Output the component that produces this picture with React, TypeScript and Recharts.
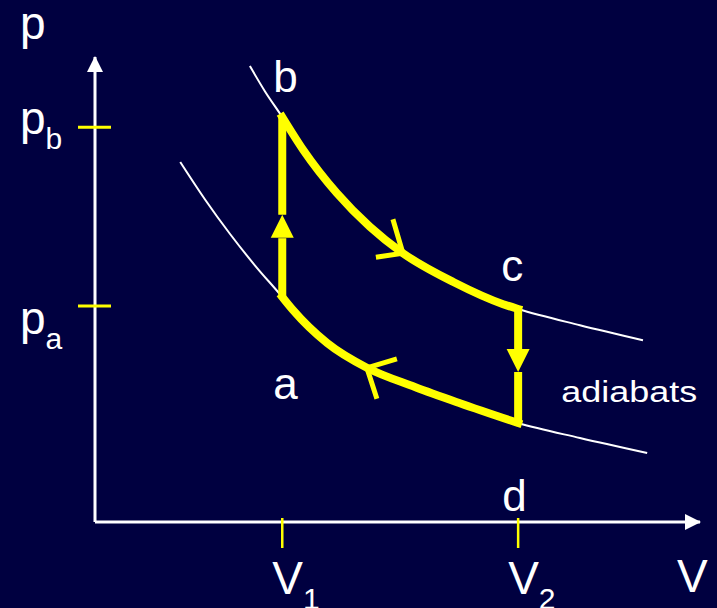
import {
  ComposedChart,
  Line,
  XAxis,
  YAxis,
  ReferenceDot,
  ReferenceLine,
} from "recharts";

// p-V diagram of the Otto cycle (arbitrary units)
const V1 = 3.12;
const V2 = 7.05;
const V_MAX = 10.08;
const P_MAX = 7.75;

// upper adiabat (through b and c)
const upperV = [2.58, 2.83, 3.12, 3.47, 4.03, 4.58, 5.13, 5.97, 6.8, 7.05, 8.08, 9.13];
const upperP = [7.6, 7.18, 6.75, 6.2, 5.48, 4.92, 4.48, 4.0, 3.63, 3.55, 3.28, 3.03];

// lower adiabat (through a and d)
const lowerV = [1.42, 1.83, 2.25, 2.67, 3.12, 3.3, 3.87, 4.53, 5.33, 6.08, 7.05, 8.08, 9.2];
const lowerP = [6.0, 5.38, 4.8, 4.27, 3.75, 3.53, 2.98, 2.57, 2.25, 1.98, 1.65, 1.4, 1.15];

// axis ticks
const volumeTicks = [V1, V2];
const volumeTickLabels = ["1", "2"];
const pressureTicks = [3.6, 6.58];
const pressureTickLabels = ["a", "b"];

// cycle corners
const cornerNames = ["a", "b", "c", "d"];
const cornerV = [V1, V1, V2, V2];
const cornerP = [3.75, 6.75, 3.55, 1.65];

// where the vertical strokes break for their arrowheads
const upArrowBase = 4.73;
const upArrowTip = 5.12;
const downArrowBase = 2.88;
const downArrowTip = 2.5;

// arrow tips on the cycle: up, expansion, down, compression
const arrowV = [V1, 5.13, V2, 4.53];
const arrowP = [upArrowTip, 4.48, downArrowTip, 2.57];

const BG = "#000040";
const YELLOW = "#ffff00";
const WHITE = "#ffffff";
const FONT = "'Liberation Sans', Arial, sans-serif";

type Pt = { V: number; p: number };
const toPoints = (vs: number[], ps: number[]): Pt[] => vs.map((V, i) => ({ V, p: ps[i] }));
const upper = toPoints(upperV, upperP);
const lower = toPoints(lowerV, lowerP);
const between = (pts: Pt[]) => pts.filter((d) => d.V >= V1 && d.V <= V2);

// the four strokes of the cycle
const expansion = between(upper); // b -> c
const compression = between(lower); // a <- d
const heatingLow = [
  { V: cornerV[0], p: cornerP[0] },
  { V: V1, p: upArrowBase },
];
const heatingHigh = [
  { V: V1, p: upArrowTip },
  { V: cornerV[1], p: cornerP[1] },
];
const coolingHigh = [
  { V: cornerV[2], p: cornerP[2] },
  { V: V2, p: downArrowBase },
];
const coolingLow = [
  { V: V2, p: downArrowTip },
  { V: cornerV[3], p: cornerP[3] },
];

const arrowShapes = [
  (cx: number, cy: number) => (
    <polygon points={`${cx},${cy} ${cx - 11.5},${cy + 23} ${cx + 11.5},${cy + 23}`} fill={YELLOW} />
  ),
  (cx: number, cy: number) => (
    <polyline
      points={`${cx - 10},${cy - 34} ${cx},${cy} ${cx - 27},${cy + 4}`}
      fill="none"
      stroke={YELLOW}
      strokeWidth={5}
    />
  ),
  (cx: number, cy: number) => (
    <polygon points={`${cx},${cy} ${cx - 11.5},${cy - 23} ${cx + 11.5},${cy - 23}`} fill={YELLOW} />
  ),
  (cx: number, cy: number) => (
    <polyline
      points={`${cx + 30},${cy - 9} ${cx},${cy} ${cx + 10},${cy + 31}`}
      fill="none"
      stroke={YELLOW}
      strokeWidth={5}
    />
  ),
];

// label offsets from the corner points, in pixels
const cornerLabelOffset = [
  [-9, 102],
  [-9, -25],
  [-17, -28],
  [-16, 88],
];
const pTickLabelDy = [28, 7];

const lineProps = { dataKey: "p", dot: false, activeDot: false, isAnimationActive: false } as const;

export default function App() {
  return (
    <div style={{ position: "absolute", left: 0, top: 0, width: 717, height: 608, background: BG }}>
      <ComposedChart
        width={717}
        height={608}
        margin={{ top: 57, right: 17, bottom: 86, left: 95 }}
        style={{ fontFamily: FONT }}
      >
        <XAxis type="number" dataKey="V" domain={[0, V_MAX]} allowDataOverflow hide />
        <YAxis type="number" domain={[0, P_MAX]} allowDataOverflow hide />

        {/* axes */}
        <ReferenceLine y={0} stroke={WHITE} strokeWidth={3} ifOverflow="visible" />
        <ReferenceLine x={0} stroke={WHITE} strokeWidth={3} ifOverflow="visible" />

        {/* adiabats */}
        <Line {...lineProps} data={upper} type="monotoneX" stroke={WHITE} strokeWidth={2} />
        <Line {...lineProps} data={lower} type="monotoneX" stroke={WHITE} strokeWidth={2} />

        {/* the cycle */}
        <Line {...lineProps} data={expansion} type="monotoneX" stroke={YELLOW} strokeWidth={8} strokeLinecap="square" />
        <Line {...lineProps} data={compression} type="monotoneX" stroke={YELLOW} strokeWidth={8} strokeLinecap="square" />
        <Line {...lineProps} data={heatingLow} type="linear" stroke={YELLOW} strokeWidth={8} />
        <Line {...lineProps} data={heatingHigh} type="linear" stroke={YELLOW} strokeWidth={8} />
        <Line {...lineProps} data={coolingHigh} type="linear" stroke={YELLOW} strokeWidth={8} />
        <Line {...lineProps} data={coolingLow} type="linear" stroke={YELLOW} strokeWidth={8} />

        {arrowV.map((v, i) => (
          <ReferenceDot
            key={`arrow-${i}`}
            x={v}
            y={arrowP[i]}
            ifOverflow="visible"
            shape={(props: any) => arrowShapes[i](props.cx, props.cy)}
          />
        ))}

        {/* axis arrowheads and names */}
        <ReferenceDot
          x={V_MAX}
          y={0}
          ifOverflow="visible"
          shape={({ cx, cy }: any) => (
            <g>
              <polygon points={`${cx + 1},${cy} ${cx - 15},${cy - 8} ${cx - 15},${cy + 8}`} fill={WHITE} />
              <text x={cx - 23} y={cy + 70} fill={WHITE} fontSize={46} fontFamily={FONT}>V</text>
            </g>
          )}
        />
        <ReferenceDot
          x={0}
          y={P_MAX}
          ifOverflow="visible"
          shape={({ cx, cy }: any) => (
            <g>
              <polygon points={`${cx},${cy - 1} ${cx - 8},${cy + 15} ${cx + 8},${cy + 15}`} fill={WHITE} />
              <text x={cx - 75} y={cy - 18} fill={WHITE} fontSize={46} fontFamily={FONT}>p</text>
            </g>
          )}
        />

        {/* yellow ticks with their labels */}
        {volumeTicks.map((v, i) => (
          <ReferenceDot
            key={`vt-${i}`}
            x={v}
            y={0}
            ifOverflow="visible"
            shape={({ cx, cy }: any) => (
              <g>
                <line x1={cx} x2={cx} y1={cy - 4} y2={cy + 26} stroke={YELLOW} strokeWidth={2.5} />
                <text x={cx - 10} y={cy + 72} fill={WHITE} fontSize={46} fontFamily={FONT}>
                  V<tspan fontSize={30} dy={15}>{volumeTickLabels[i]}</tspan>
                </text>
              </g>
            )}
          />
        ))}
        {pressureTicks.map((p, i) => (
          <ReferenceDot
            key={`pt-${i}`}
            x={0}
            y={p}
            ifOverflow="visible"
            shape={({ cx, cy }: any) => (
              <g>
                <line x1={cx - 17} x2={cx + 16} y1={cy} y2={cy} stroke={YELLOW} strokeWidth={3} />
                <text x={cx - 75} y={cy + pTickLabelDy[i]} fill={WHITE} fontSize={46} fontFamily={FONT}>
                  p<tspan fontSize={30} dy={15}>{pressureTickLabels[i]}</tspan>
                </text>
              </g>
            )}
          />
        ))}

        {/* corner names */}
        {cornerNames.map((name, i) => (
          <ReferenceDot
            key={`c-${name}`}
            x={cornerV[i]}
            y={cornerP[i]}
            ifOverflow="visible"
            shape={({ cx, cy }: any) => (
              <text
                x={cx + cornerLabelOffset[i][0]}
                y={cy + cornerLabelOffset[i][1]}
                fill={WHITE}
                fontSize={44}
                fontFamily={FONT}
              >
                {name}
              </text>
            )}
          />
        ))}

        <ReferenceDot
          x={7.77}
          y={2.0}
          ifOverflow="visible"
          shape={({ cx, cy }: any) => (
            <text
              x={cx}
              y={cy}
              fill={WHITE}
              fontSize={29}
              fontFamily={FONT}
              textLength={136}
              lengthAdjust="spacingAndGlyphs"
            >
              adiabats
            </text>
          )}
        />
      </ComposedChart>
    </div>
  );
}
